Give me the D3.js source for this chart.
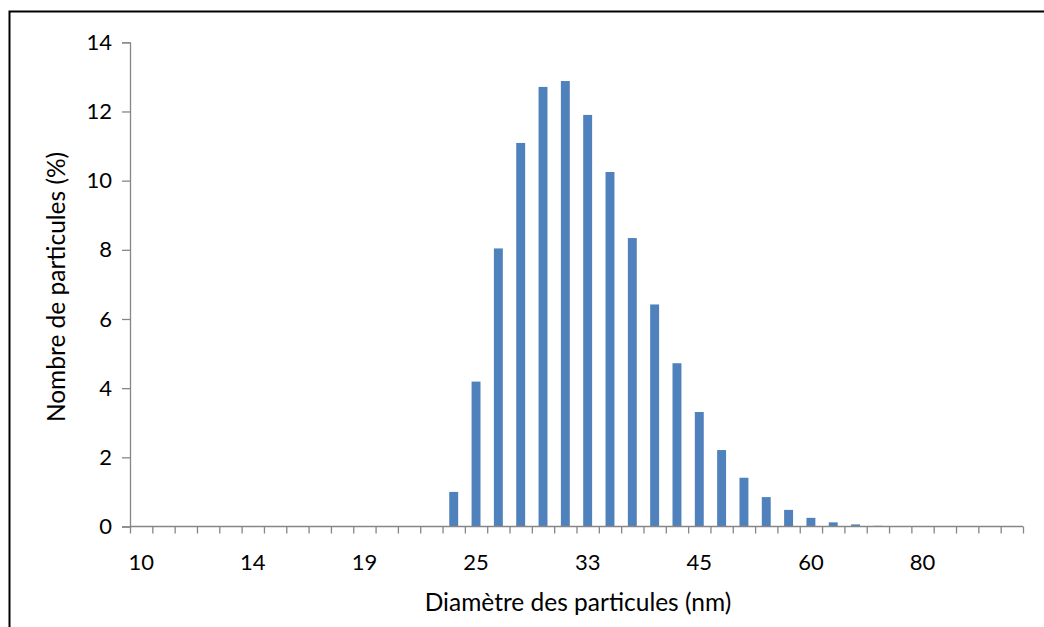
<!DOCTYPE html>
<html>
<head>
<meta charset="utf-8">
<script src="https://cdn.jsdelivr.net/npm/d3@7"></script>
<style>
  html, body { margin: 0; padding: 0; background: #fff; }
  svg { display: block; }
  text { font-family: Lato, "Open Sans", sans-serif; fill: #000; }
</style>
</head>
<body>
<svg id="chart" width="1044" height="627"></svg>
<script>
// Particle diameter classes (nm), log-spaced
const diameters = [
  10.0, 10.7, 11.4, 12.2, 13.1, 14.0, 14.9, 15.8, 16.8, 17.9,
  19.0, 20.1, 21.2, 22.4, 23.7, 25.0, 26.4, 27.9, 29.5, 31.2,
  33.0, 35.1, 37.4, 39.8, 42.3, 45.0, 47.7, 50.5, 53.5, 56.6,
  60.0, 63.6, 67.3, 71.3, 75.5, 80.0, 84.7, 89.7, 95.0, 100.6
];
// Number of particles per class (%)
const percent = [
  0, 0, 0, 0, 0, 0, 0, 0, 0, 0,
  0, 0, 0, 0, 1.0, 4.19, 8.04, 11.09, 12.71, 12.88,
  11.9, 10.25, 8.34, 6.42, 4.72, 3.31, 2.21, 1.41, 0.85, 0.48,
  0.25, 0.12, 0.06, 0.02, 0, 0, 0, 0, 0, 0
];
const yTicks = [0, 2, 4, 6, 8, 10, 12, 14];
const xLabelEvery = 5;
const xTitle = "Diamètre des particules (nm)";
const yTitle = "Nombre de particules (%)";

const svg = d3.select("#chart");
const plotLeft = 130, plotRight = 1023, plotTop = 42.3, plotBottom = 526.5;
const axisColor = "#868686";
const barColor = "#4F81BD";
const tickFont = 22, titleFont = 24.5;

// outer frame
svg.append("rect")
  .attr("x", 9.5).attr("y", 11.5)
  .attr("width", 1200).attr("height", 800)
  .attr("fill", "none").attr("stroke", "#000").attr("stroke-width", 2);

const idx = d3.range(diameters.length);
const x = d3.scaleBand().domain(idx).range([plotLeft, plotRight])
  .paddingInner(0.6).paddingOuter(0.3);
const xEdge = d3.scaleLinear().domain([0, diameters.length]).range([plotLeft, plotRight]);
const y = d3.scaleLinear().domain([0, 14]).range([plotBottom, plotTop]);

// bars
svg.append("g").selectAll("rect")
  .data(idx)
  .join("rect")
  .attr("x", i => x(i))
  .attr("width", x.bandwidth())
  .attr("y", i => y(percent[i]))
  .attr("height", i => y(0) - y(percent[i]))
  .attr("fill", barColor);

// y axis
const yAxis = svg.append("g")
  .attr("transform", `translate(${plotLeft},0)`)
  .call(d3.axisLeft(y).tickValues(yTicks).tickSize(8).tickPadding(10).tickFormat(d3.format("d")));
yAxis.select(".domain").attr("stroke", axisColor).attr("stroke-width", 1.3);
yAxis.selectAll(".tick line").attr("stroke", axisColor).attr("stroke-width", 1.3);
yAxis.selectAll(".tick text").attr("font-size", tickFont).attr("font-family", "Lato, sans-serif");

// x axis: ticks on class boundaries, labels on every fifth class
const xAxisG = svg.append("g").attr("transform", `translate(0,${plotBottom})`);
xAxisG.append("line")
  .attr("x1", plotLeft).attr("x2", plotRight)
  .attr("stroke", axisColor).attr("stroke-width", 1.3);
xAxisG.call(d3.axisBottom(xEdge).tickValues(d3.range(diameters.length + 1)).tickSize(7).tickFormat(""));
xAxisG.select(".domain").remove();
xAxisG.selectAll(".tick line").attr("stroke", axisColor).attr("stroke-width", 1.3);

svg.append("g").selectAll("text")
  .data(idx.filter(i => i % xLabelEvery === 0))
  .join("text")
  .attr("x", i => x(i) + x.bandwidth() / 2)
  .attr("y", plotBottom + 43)
  .attr("text-anchor", "middle")
  .attr("font-size", tickFont)
  .text(i => d3.format(".0f")(diameters[i]));

// axis titles
svg.append("text")
  .attr("x", 578).attr("y", 611)
  .attr("text-anchor", "middle")
  .attr("font-size", titleFont)
  .text(xTitle);

svg.append("text")
  .attr("transform", "translate(65,287) rotate(-90)")
  .attr("text-anchor", "middle")
  .attr("font-size", titleFont)
  .text(yTitle);
</script>
</body>
</html>
